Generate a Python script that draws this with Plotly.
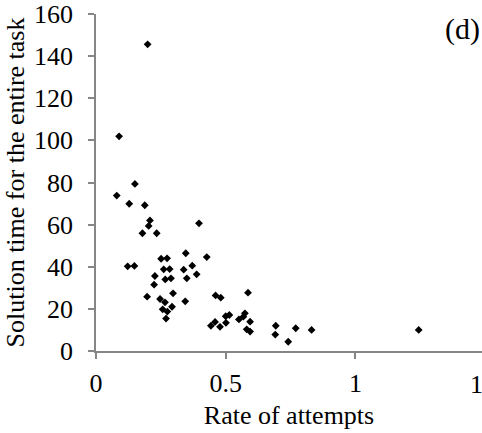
import plotly.graph_objects as go

# Rate of attempts (x) and solution time for the entire task (y)
rate = [0.089, 0.199, 0.150, 0.080, 0.128, 0.188, 0.208, 0.203, 0.179, 0.234,
        0.397, 0.122, 0.148, 0.251, 0.274, 0.346, 0.427, 0.261, 0.284, 0.338,
        0.371, 0.227, 0.267, 0.289, 0.350, 0.388, 0.224, 0.197, 0.297, 0.247,
        0.266, 0.293, 0.344, 0.257, 0.275, 0.270, 0.461, 0.481, 0.586, 0.500,
        0.514, 0.551, 0.574, 0.568, 0.594, 0.443, 0.459, 0.478, 0.501, 0.581,
        0.594, 0.693, 0.691, 0.741, 0.770, 0.831, 1.244]
solution_time = [101.9, 145.6, 79.3, 73.8, 69.9, 69.2, 62.0, 59.4, 55.9, 55.9,
                 60.6, 40.2, 40.4, 43.8, 44.0, 46.4, 44.6, 38.8, 38.9, 38.6,
                 40.5, 35.6, 34.0, 34.5, 34.5, 36.4, 31.5, 25.8, 27.4, 24.7,
                 23.1, 21.0, 23.6, 19.8, 18.7, 15.4, 26.4, 25.3, 27.7, 16.5,
                 17.1, 15.0, 17.9, 16.3, 13.9, 12.0, 13.8, 11.5, 13.4, 10.3,
                 9.2, 12.0, 7.8, 4.4, 10.8, 10.0, 10.0]

x_tickvals = [0, 0.5, 1]
x_ticktext = ["0", "0.5", "1"]
y_tickvals = [0, 20, 40, 60, 80, 100, 120, 140, 160]

FONT = "Liberation Serif, Times New Roman, serif"
FS = 26
AXIS_COLOR = "#868686"

fig = go.Figure(go.Scatter(
    x=rate, y=solution_time, mode="markers",
    marker=dict(symbol="diamond", size=6, color="black", line=dict(width=0)),
))

fig.update_layout(
    width=482, height=433,
    margin=dict(l=96, r=0, t=14, b=82),
    paper_bgcolor="white", plot_bgcolor="white",
    showlegend=False,
    font=dict(family=FONT, size=FS, color="black"),
    xaxis=dict(
        range=[0, 1.488], tickvals=x_tickvals, ticktext=x_ticktext,
        showgrid=False, zeroline=False, showline=True, linecolor=AXIS_COLOR,
        linewidth=1.5, ticks="outside", ticklen=6, tickcolor=AXIS_COLOR,
        tickwidth=1.5, tickfont=dict(family=FONT, size=FS), ticklabelstandoff=2,
        title=dict(text="Rate of attempts", font=dict(family=FONT, size=FS), standoff=9),
    ),
    yaxis=dict(
        range=[0, 160], tickvals=y_tickvals,
        showgrid=False, zeroline=False, showline=True, linecolor=AXIS_COLOR,
        linewidth=1.5, ticks="outside", ticklen=6, tickcolor=AXIS_COLOR,
        tickwidth=1.5, tickfont=dict(family=FONT, size=FS), ticklabelstandoff=10,
        title=dict(text="Solution time for the entire task", font=dict(family=FONT, size=FS), standoff=2),
    ),
    annotations=[
        dict(text="(d)", xref="paper", yref="paper", x=1.0, y=1.0,
             xanchor="right", yanchor="top", yshift=4, showarrow=False,
             font=dict(family=FONT, size=30, color="black")),
        dict(text="1", xref="paper", yref="paper", x=(476 - 96) / 386, y=0,
             xanchor="center", yanchor="top", yshift=-17, showarrow=False,
             font=dict(family=FONT, size=FS, color="black")),
    ],
)

fig.write_html("out.html")
